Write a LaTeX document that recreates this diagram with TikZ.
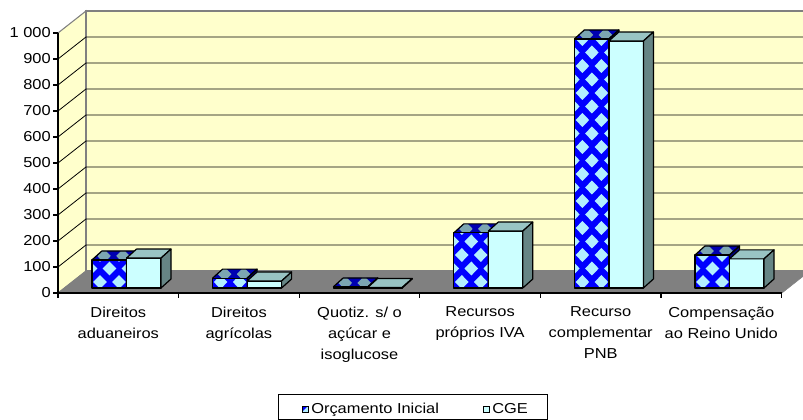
\documentclass[tikz,border=0pt]{standalone}
\usepackage{fontspec}
\setmainfont{Liberation Sans}[FakeStretch=1.14]
\definecolor{wallyellow}{HTML}{FFFFCC}
\definecolor{wallgray}{HTML}{808080}
\definecolor{floorgray}{HTML}{808080}
\definecolor{barblue}{HTML}{0000FF}
\definecolor{barlight}{HTML}{B2EEFF}
\definecolor{bardark}{HTML}{000080}
\definecolor{cyanfront}{HTML}{CCFFFF}
\definecolor{cyantop}{HTML}{99C4C4}
\definecolor{cyanside}{HTML}{668585}

\newcommand\diamondgrid[3]{%
  \foreach \j in {0,...,#3}{
    \foreach \i in {0,1,2}{
      \pgfmathsetmacro\dx{#1+8+19*\i-9.5*mod(\j,2)}
      \pgfmathsetmacro\dy{#2-6-13.5*\j}
      \fill[barlight,shift={(\dx,\dy)}] (-6.8,0)--(0,-7)--(6.8,0)--(0,7)--cycle;
    }}}

\newcommand\blueprism[2]{%
  \pgfmathsetmacro\tp{288-0.26*#2}
  \begin{scope}
    \clip (#1,288) rectangle (#1+34.5,\tp);
    \fill[barblue] (#1,288) rectangle (#1+34.5,\tp);
    \diamondgrid{#1}{288}{20}
  \end{scope}
  \begin{scope}
    \clip (#1,\tp)--(#1+10,\tp-9)--(#1+44.5,\tp-9)--(#1+34.5,\tp)--cycle;
    \fill[barblue] (#1,\tp+1)--(#1+10,\tp-10)--(#1+45,\tp-10)--(#1+35,\tp+1)--cycle;
    \diamondgrid{#1+4}{\tp+2}{1}
    \fill[black,opacity=.3] (#1,\tp+1)--(#1+10,\tp-10)--(#1+45,\tp-10)--(#1+35,\tp+1)--cycle;
  \end{scope}
  \filldraw[baredge,fill=bardark] (#1+34.5,288)--(#1+44.5,279)--(#1+44.5,\tp-9)--(#1+34.5,\tp)--cycle;
  \draw[baredge] (#1,288) rectangle (#1+34.5,\tp);
  \draw[baredge] (#1,\tp)--(#1+10,\tp-9)--(#1+44.5,\tp-9)--(#1+34.5,\tp);
}

\newcommand\cyanprism[2]{%
  \pgfmathsetmacro\tq{288-0.26*#2}
  \filldraw[baredge,fill=cyanfront] (#1,288) rectangle (#1+34.5,\tq);
  \filldraw[baredge,fill=cyantop] (#1,\tq)--(#1+10,\tq-9)--(#1+44.5,\tq-9)--(#1+34.5,\tq)--cycle;
  \filldraw[baredge,fill=cyanside] (#1+34.5,288)--(#1+44.5,279)--(#1+44.5,\tq-9)--(#1+34.5,\tq)--cycle;
}

\begin{document}
\begin{tikzpicture}[x=0.75pt,y=-0.75pt,
  wall/.style={fill=wallyellow,draw=wallgray,line width=0.8pt},
  floor/.style={fill=floorgray,draw=floorgray},
  gridline/.style={draw=black,line width=0.6pt},
  axisline/.style={draw=black,line width=0.8pt},
  baredge/.style={draw=black,line width=0.9pt,line join=round},
  ticklabel/.style={anchor=east,inner sep=0pt},
  catlabel/.style={anchor=north,align=center,inner sep=0pt},
  every node/.style={font=\fontsize{10.8}{15.75}\selectfont}]
\useasboundingbox (0,0) rectangle (803,420);
\begin{scope}
\clip (0,0) rectangle (803,420);
\filldraw[wall] (58,293)--(58,33)--(86,11)--(86,271)--cycle;
\filldraw[wall] (86,271)--(86,11)--(806,11)--(806,271)--cycle;
\filldraw[floor] (58,293)--(86,271)--(806,271)--(806,274)--(782,293)--cycle;
\foreach \v in {100,200,...,900}
  \draw[gridline] (58,293-0.26*\v)--(86,271-0.26*\v)--(806,271-0.26*\v);
\end{scope}

\foreach \k/\vb/\vc in {0/108/115,1/38/27,2/4/2,3/212/219,4/958/950,5/127/112}{
  \pgfmathsetmacro\bx{92+120.6*\k}
  \blueprism{\bx}{\vb}
  \cyanprism{\bx+34.5}{\vc}
}

\draw[axisline] (58,33)--(58,293)--(782,293);
\foreach \v in {0,100,...,1000}
  \draw[axisline] (53,293-0.26*\v)--(58,293-0.26*\v);
\foreach \k in {0,...,6}
  \draw[axisline] (58+120.6*\k,293)--(58+120.6*\k,298);

\foreach \v/\t in {0/0,100/100,200/200,300/300,400/400,500/500,600/600,700/700,800/800,900/900,1000/{1 000}}
  \node[ticklabel] (yl\v) at (51,293-0.26*\v) {\t};

\foreach \k/\txt in {0/{Direitos\\aduaneiros},1/{Direitos\\agrícolas},2/{Quotiz. s/ o\\açúcar e\\isoglucose},3/{Recursos\\próprios IVA},4/{Recurso\\complementar\\PNB},5/{Compensação\\ao Reino Unido}}
  \node[catlabel] (cat\k) at (118.3+120.6*\k,306.5) {\txt};

\draw[line width=0.6pt] (278,394) rectangle (547,419.5);
\fill[barblue] (302,406) rectangle (308,412);
\fill[barlight] (308,406)--(308,412)--(302,412)--cycle;
\draw[line width=0.6pt] (302,406) rectangle (308,412);
\filldraw[fill=cyanfront,line width=0.6pt] (483,406) rectangle (489,412);
\node[anchor=base west,inner sep=0pt] (leg1) at (311,413.5) {Orçamento Inicial};
\node[anchor=base west,inner sep=0pt] (leg2) at (492,413.5) {CGE};
\end{tikzpicture}
\end{document}
